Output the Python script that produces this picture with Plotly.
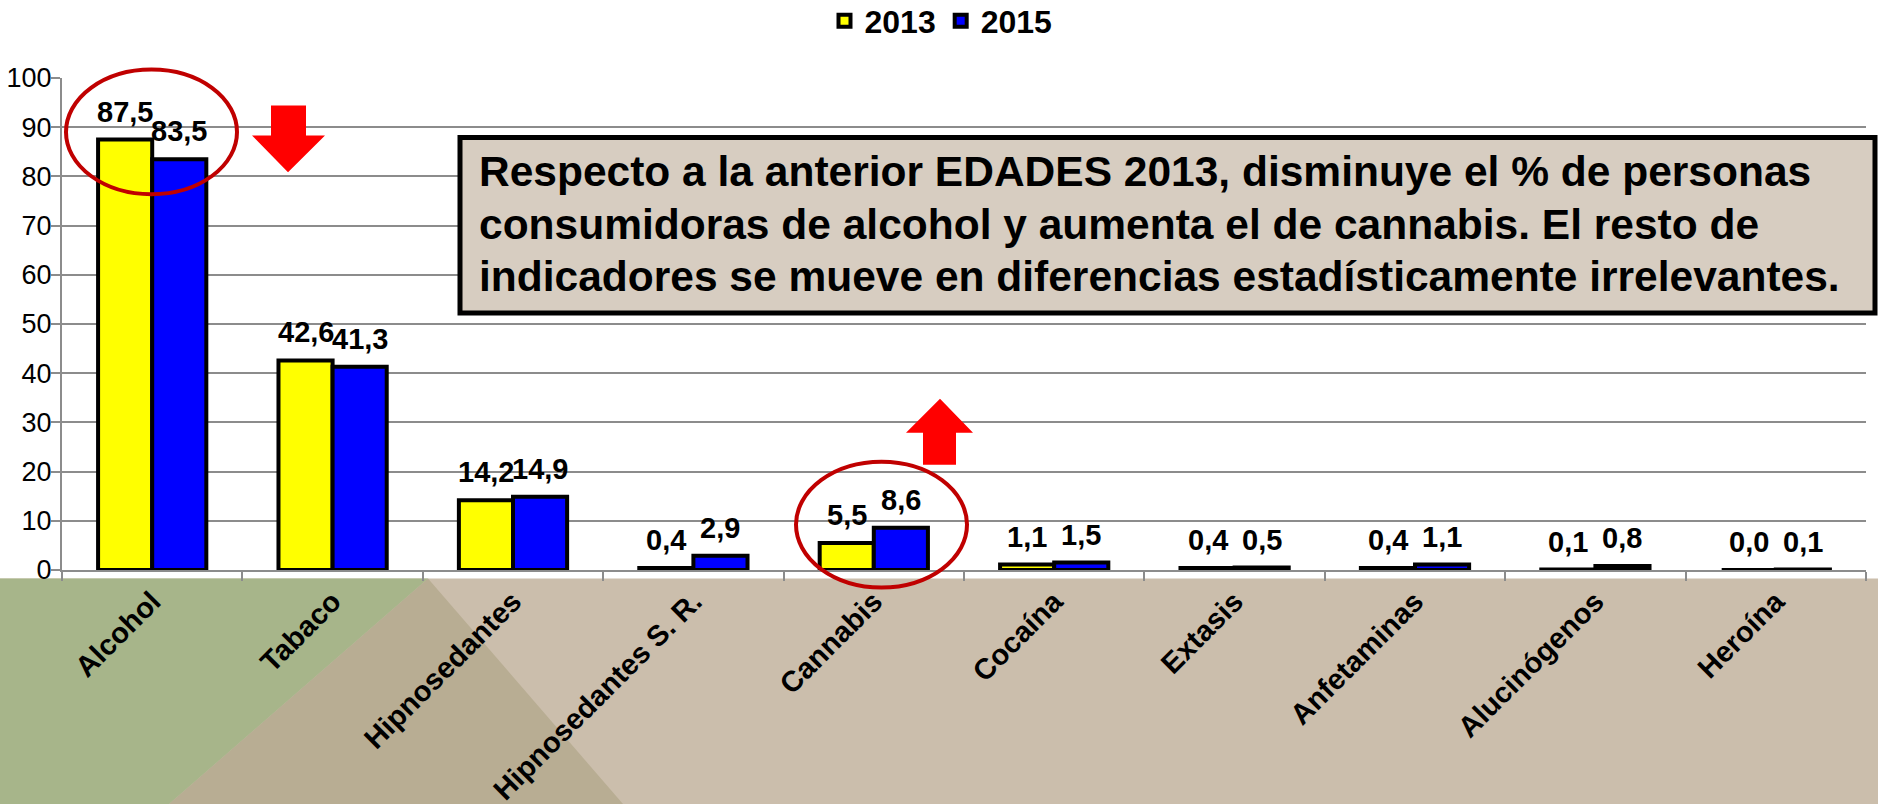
import plotly.graph_objects as go

categories = ["Alcohol", "Tabaco", "Hipnosedantes", "Hipnosedantes S. R.", "Cannabis",
              "Cocaína", "Extasis", "Anfetaminas", "Alucinógenos", "Heroína"]
v2013 = [87.5, 42.6, 14.2, 0.4, 5.5, 1.1, 0.4, 0.4, 0.1, 0.0]
v2015 = [83.5, 41.3, 14.9, 2.9, 8.6, 1.5, 0.5, 1.1, 0.8, 0.1]
yticks = [0, 10, 20, 30, 40, 50, 60, 70, 80, 90, 100]
note_lines = ["Respecto a la anterior EDADES 2013, disminuye el % de personas",
              "consumidoras de alcohol y aumenta el de cannabis. El resto de",
              "indicadores se mueve en diferencias estadísticamente irrelevantes."]

W, H = 1878, 805
L, R = 62, 1866
T, B = 77.5, 570.5
PW, PH = R - L, B - T
FONT = "Liberation Sans, Arial, sans-serif"
BARGAP = 0.4
BAR_PX = (1 - BARGAP) * PW / len(categories) / 2

def px(x):
    return (x - L) / PW

def py(y):
    return (B - y) / PH

fig = go.Figure()
fig.add_trace(go.Bar(name="2013", x=categories, y=v2013,
                     marker=dict(color="#ffff00", line=dict(color="black", width=4))))
fig.add_trace(go.Bar(name="2015", x=categories, y=v2015,
                     marker=dict(color="#0000ff", line=dict(color="black", width=4))))

annotations = []
# value labels above each bar
for vals, sign in ((v2013, -1), (v2015, 1)):
    for c, v in zip(categories, vals):
        annotations.append(dict(x=c, y=v, xref="x", yref="y", xshift=sign * BAR_PX / 2,
                                yshift=10, yanchor="bottom", xanchor="center", showarrow=False,
                                text=f"{v:.1f}".replace(".", ","),
                                font=dict(family=FONT, size=29, color="black", weight="bold")))

shapes = []
# bottom band
shapes.append(dict(type="path", xref="paper", yref="paper", layer="below",
                   path=f"M{px(0)},{py(579)} L{px(1878)},{py(579)} L{px(1878)},{py(805)} L{px(0)},{py(805)} Z",
                   fillcolor="#cbbeac", line=dict(width=0)))
shapes.append(dict(type="path", xref="paper", yref="paper", layer="below",
                   path=f"M{px(428)},{py(579)} L{px(623)},{py(805)} L{px(169)},{py(805)} Z",
                   fillcolor="#b8ad93", line=dict(width=0)))
shapes.append(dict(type="path", xref="paper", yref="paper", layer="below",
                   path=f"M{px(0)},{py(579)} L{px(428)},{py(579)} L{px(169)},{py(805)} L{px(0)},{py(805)} Z",
                   fillcolor="#a7b58a", line=dict(width=0)))
# note box
shapes.append(dict(type="rect", xref="paper", yref="paper",
                   x0=px(460), x1=px(1875), y0=py(137), y1=py(313),
                   fillcolor="#d7cdc1", line=dict(color="black", width=5)))
# ellipses
shapes.append(dict(type="circle", xref="paper", yref="paper",
                   x0=px(66), x1=px(237), y0=py(69), y1=py(194),
                   line=dict(color="#c00000", width=4)))
shapes.append(dict(type="circle", xref="paper", yref="paper",
                   x0=px(796), x1=px(967), y0=py(462), y1=py(588),
                   line=dict(color="#c00000", width=4)))
# arrows
down = [(271, 105), (306, 105), (306, 135), (325, 135), (288, 172), (252, 135), (271, 135)]
up = [(923, 465), (956, 465), (956, 433), (973, 433), (940, 399), (906, 433), (923, 433)]
for pts in (down, up):
    path = "M" + " L".join(f"{px(a)},{py(b)}" for a, b in pts) + " Z"
    shapes.append(dict(type="path", xref="paper", yref="paper", path=path,
                       fillcolor="#ff0000", line=dict(width=0)))

line_centers = [171, 224, 276]
for t, cy in zip(note_lines, line_centers):
    annotations.append(dict(xref="paper", yref="paper", x=px(477), y=py(cy),
                            xanchor="left", yanchor="middle", align="left", showarrow=False,
                            text=t, font=dict(family=FONT, size=42.5, color="black", weight="bold")))

fig.update_layout(
    width=W, height=H,
    margin=dict(l=L, r=W - R, t=T, b=H - B, pad=0, autoexpand=False),
    paper_bgcolor="white", plot_bgcolor="white",
    barmode="group", bargap=BARGAP, bargroupgap=0,
    font=dict(family=FONT, color="black"),
    showlegend=True,
    legend=dict(orientation="h", xref="container", yref="container",
                x=941 / W, y=1 - 21 / H, xanchor="center", yanchor="middle",
                font=dict(family=FONT, size=32, color="black", weight="bold"),
                itemwidth=30, tracegroupgap=0, bgcolor="rgba(0,0,0,0)"),
    shapes=shapes,
    annotations=annotations,
)
fig.update_xaxes(showline=True, linecolor="#8c8c8c", linewidth=2, automargin=False,
                 ticks="outside", tickson="boundaries", ticklen=9, tickcolor="#8c8c8c",
                 tickwidth=2, tickangle=-45, ticklabelstandoff=1,
                 tickfont=dict(family=FONT, size=29, color="black", weight="bold"))
fig.update_yaxes(range=[0, 100], tickvals=yticks, showline=True, linecolor="#8c8c8c",
                 linewidth=2, showgrid=True, gridcolor="#8c8c8c", gridwidth=2, automargin=False,
                 zeroline=False, ticks="outside", ticklen=9, tickcolor="#8c8c8c", tickwidth=2,
                 ticklabelstandoff=-6,
                 tickfont=dict(family=FONT, size=27, color="black"))

fig.write_html("out.html", config={"displayModeBar": False},
               post_script="document.body.style.margin='0px';")
